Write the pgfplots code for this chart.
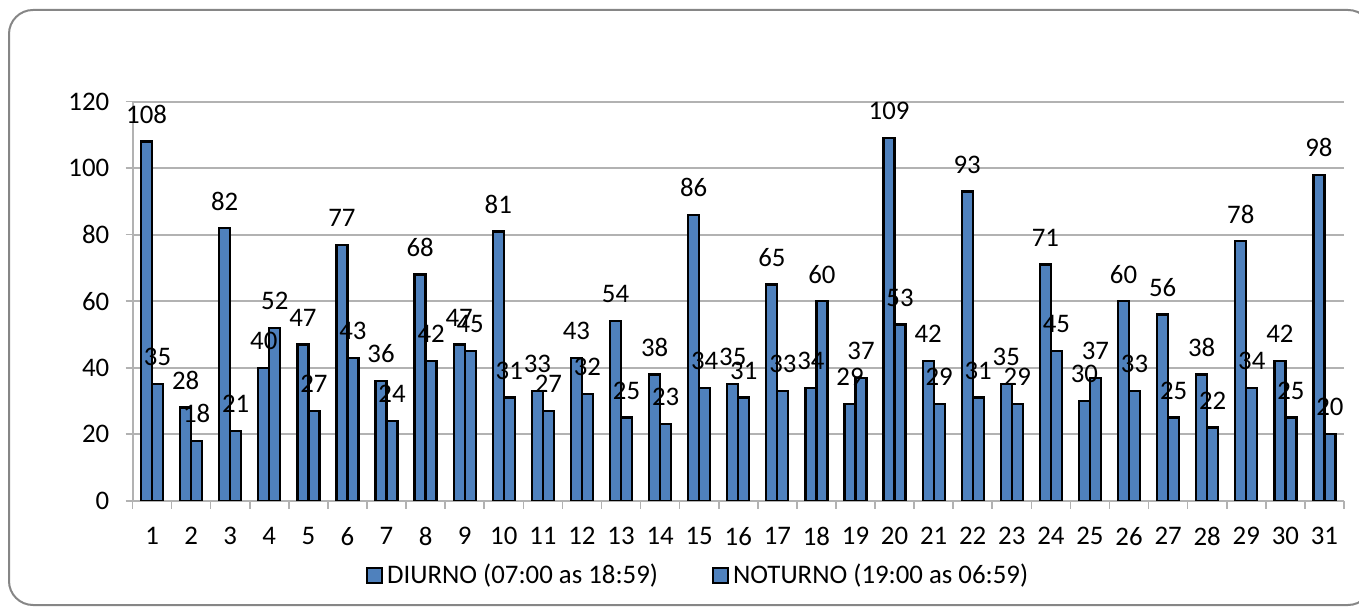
\documentclass[border=0pt]{standalone}
\usepackage{fontspec}
\setmainfont{Carlito}
\usepackage{pgfplots}
\pgfplotsset{compat=1.18}
\definecolor{barblue}{RGB}{79,129,189}
\definecolor{gridgray}{RGB}{178,178,178}
\definecolor{framegray}{RGB}{134,134,134}
\begin{document}
\fontsize{13.4pt}{15pt}\selectfont
\begin{tikzpicture}[x=1pt,y=1pt]
\path[use as bounding box] (0,0) rectangle (679.5,-304);
\draw[framegray, line width=1pt, rounded corners=12pt] (4.5,-5) rectangle (686,-302.5);
\begin{axis}[
  at={(66.25pt,-250.35pt)}, anchor=south west,
  scale only axis, width=605.75pt, height=199.5pt,
  ybar=0pt, bar width=5.5pt,
  xmin=0.5, xmax=31.5, ymin=0, ymax=120,
  xtick={1,...,31},
  minor xtick={0.5,1.5,...,31.5},
  ytick={0,20,...,120},
  axis x line*=bottom, axis y line*=left,
  axis line style={-, draw=gridgray, line width=1pt},
  tick align=outside,
  major tick length=3.5pt, minor tick length=4pt,
  tick style={draw=gridgray, line width=0.8pt},
  major x tick style={draw=none},
  ymajorgrids, major grid style={draw=gridgray, line width=0.9pt},
  /pgf/number format/assume math mode=true,
  yticklabel style={xshift=-3.5pt},
  xticklabel style={yshift=-5pt},
  nodes near coords,
  every node near coord/.append style={anchor=center, yshift=13.5pt, text=black},
  legend image code/.code={\draw[#1, draw=black, line width=1pt] (0pt,-3.8pt) rectangle (7.6pt,3.8pt);},
  legend style={draw=none, fill=none, at={(0.4676,-0.1875)}, anchor=center,
    /tikz/every even column/.append style={column sep=25pt}, inner sep=0pt},
  legend columns=2,
]
\addplot[fill=barblue, draw=black, line width=1.15pt] coordinates {
(1,108) (2,28) (3,82) (4,40) (5,47) (6,77) (7,36) (8,68) (9,47) (10,81)
(11,33) (12,43) (13,54) (14,38) (15,86) (16,35) (17,65) (18,34) (19,29) (20,109)
(21,42) (22,93) (23,35) (24,71) (25,30) (26,60) (27,56) (28,38) (29,78) (30,42) (31,98)};
\addplot[fill=barblue, draw=black, line width=1.15pt] coordinates {
(1,35) (2,18) (3,21) (4,52) (5,27) (6,43) (7,24) (8,42) (9,45) (10,31)
(11,27) (12,32) (13,25) (14,23) (15,34) (16,31) (17,33) (18,60) (19,37) (20,53)
(21,29) (22,31) (23,29) (24,45) (25,37) (26,33) (27,25) (28,22) (29,34) (30,25) (31,20)};
\legend{DIURNO (07:00 as 18:59), NOTURNO (19:00 as 06:59)}
\end{axis}
\end{tikzpicture}
\end{document}
